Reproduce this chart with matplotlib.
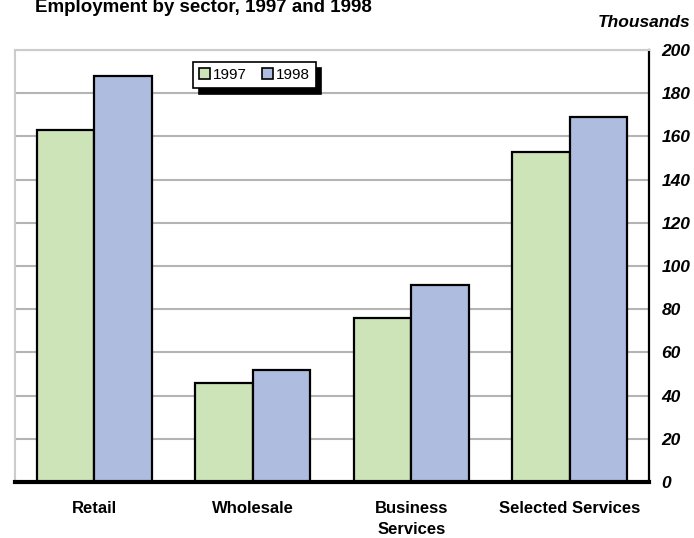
import numpy as np
import matplotlib.pyplot as plt

plt.rcParams['font.family'] = ['Liberation Sans', 'DejaVu Sans']

sectors = ['Retail', 'Wholesale', 'Business\nServices', 'Selected Services']
emp_1997 = [163, 46, 76, 153]
emp_1998 = [188, 52, 91, 169]
yticks = [0, 20, 40, 60, 80, 100, 120, 140, 160, 180, 200]

fig = plt.figure(figsize=(6.94, 5.38), dpi=100)
ax = fig.add_axes([15 / 694, 1 - 482 / 538, 634 / 694, 432 / 538])

x = np.arange(len(sectors))
w = 0.363
ax.bar(x - w / 2, emp_1997, w, color='#cde4b9', edgecolor='black', linewidth=1.6,
       label='1997', zorder=3)
ax.bar(x + w / 2, emp_1998, w, color='#adbcdf', edgecolor='black', linewidth=1.6,
       label='1998', zorder=3)

ax.set_xlim(-0.5, len(sectors) - 0.5)
ax.set_ylim(0, 200)
ax.set_yticks(yticks)
ax.yaxis.tick_right()
ax.yaxis.grid(True, color='#b4b4b4', linewidth=1.5, zorder=0)
ax.tick_params(axis='y', length=0, pad=9)
ax.tick_params(axis='x', length=0, pad=14)
for lab in ax.get_yticklabels():
    lab.set_fontweight('bold')
    lab.set_fontstyle('italic')
    lab.set_fontsize(12.5)
ax.set_xticks(x)
ax.set_xticklabels(sectors, fontweight='bold', fontsize=12, va='top',
                   linespacing=1.5)

ax.spines['left'].set_color('#cccccc')
ax.spines['top'].set_color('#cccccc')
ax.spines['left'].set_linewidth(1.5)
ax.spines['top'].set_linewidth(1.5)
ax.spines['right'].set_color('black')
ax.spines['right'].set_linewidth(1.6)
ax.spines['bottom'].set_color('black')
ax.spines['bottom'].set_linewidth(3)
ax.spines['bottom'].set_zorder(5)

leg = ax.legend(loc='upper left', bbox_to_anchor=(193 / 694, 1 - 62 / 538),
                bbox_transform=fig.transFigure, ncol=2, fontsize=11,
                frameon=True, fancybox=False, shadow={'color': 'black', 'alpha': 1, 'ox': 4, 'oy': -4},
                handlelength=0.7, handleheight=0.7, handletextpad=0.2, columnspacing=1.0,
                borderpad=0.4, borderaxespad=0)
leg.get_frame().set_edgecolor('black')
leg.get_frame().set_linewidth(1.2)
leg.set_zorder(10)
for h in leg.legend_handles:
    h.set_linewidth(1.2)

fig.text(35 / 694, 1 - 12 / 538, 'Employment by sector, 1997 and 1998',
         fontsize=13.5, fontweight='bold', ha='left', va='baseline')
fig.text(690 / 694, 1 - 27 / 538, 'Thousands', fontsize=12.5, fontweight='bold',
         fontstyle='italic', ha='right', va='baseline')

fig.savefig('out.png', dpi=100)
